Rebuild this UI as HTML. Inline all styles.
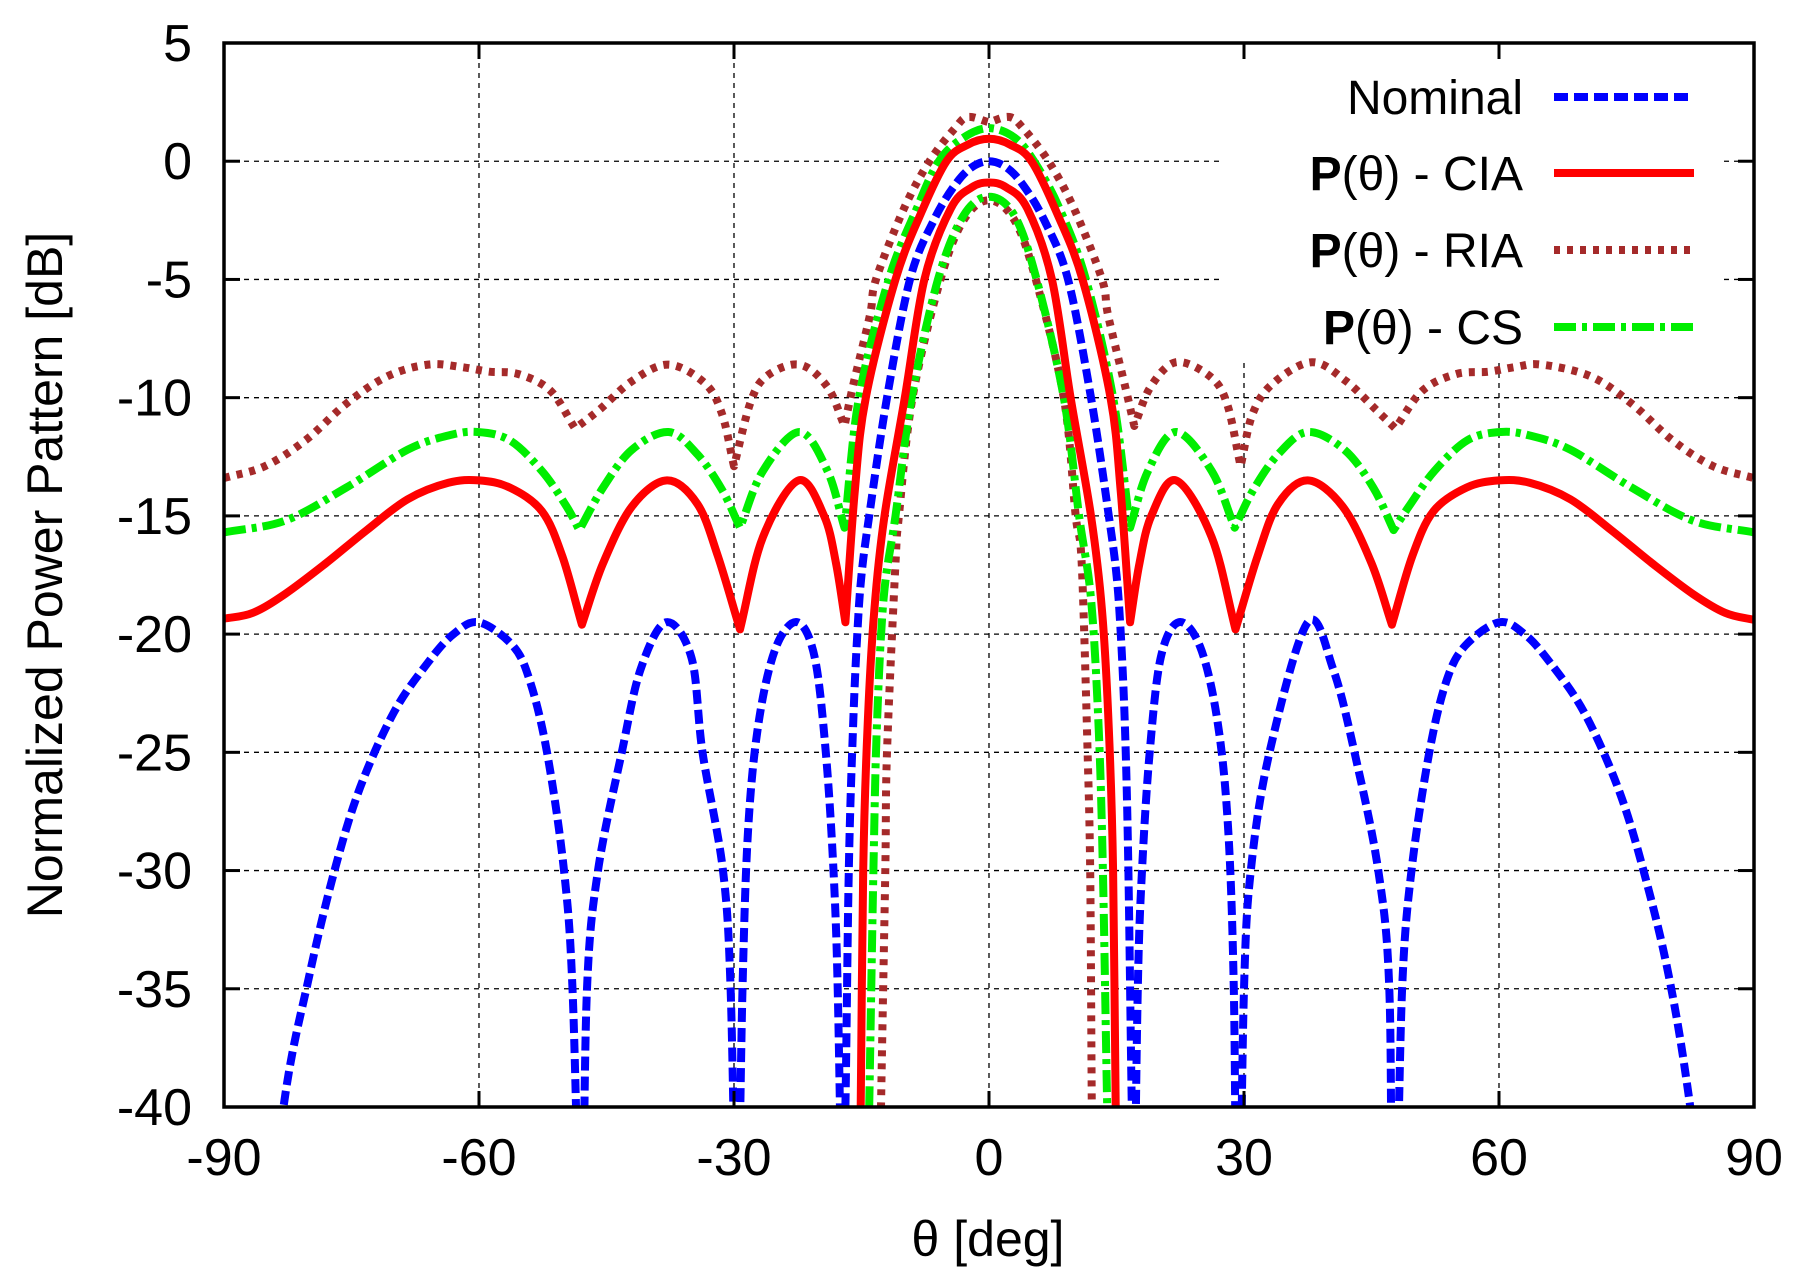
<!DOCTYPE html>
<html><head><meta charset="utf-8"><style>
html,body{margin:0;padding:0;background:#fff;}
svg{display:block;font-family:"Liberation Sans",Arial,sans-serif;}
</style></head><body>
<svg id="chart" width="1806" height="1281" viewBox="0 0 1806 1281" xmlns="http://www.w3.org/2000/svg">
<defs><clipPath id="plotclip"><rect x="224" y="43" width="1530" height="1064"/></clipPath></defs>
<rect width="1806" height="1281" fill="#fff"/>
<g id="grid"></g>
<g id="series" clip-path="url(#plotclip)"></g>
<g id="legend"></g>
<g id="axes"></g>
<text x="988" y="1256" font-size="50" text-anchor="middle">θ [deg]</text>
<text transform="translate(62,575) rotate(-90)" font-size="50" text-anchor="middle">Normalized Power Pattern [dB]</text>
</svg>
<script>
const xTicks=[-90,-60,-30,0,30,60,90];
const yTicks=[5,0,-5,-10,-15,-20,-25,-30,-35,-40];
const nominalTheta=[-86,-83,-80,-77,-74,-70,-66,-63,-60,-56,-54,-52,-50,-49,-48.2,-47.8,-47.3,-46,-43.2,-41,-38,-35,-33.7,-31.3,-30.4,-29.8,-29.5,-29,-28.3,-27,-25,-22.5,-20.5,-19.2,-18.3,-17.8,-17.3,-16.9,-16.5,-16,-15.5,-15,-14.1,-12,-9.3,-6.5,-4,-2,0,2,4,6.5,9.3,12,14.1,15,15.5,16,16.4,16.8,17.1,17.5,18,18.9,20.2,22.3,24.8,26.8,28.1,28.8,29.1,29.5,30,30.8,33,37.5,40.5,43,45.8,47.1,47.4,47.9,48.6,49.7,51.8,53.8,56,60,63,66,70,74,77,80,82.5,86];
const nominalDb=[-50,-40,-34.5,-30,-26.5,-23.3,-21.2,-20,-19.5,-20.5,-22,-25,-30,-35,-45,-45,-35,-30,-25,-21.5,-19.5,-21,-25,-30,-35,-45,-45,-35,-28,-23.5,-20.5,-19.5,-21,-25,-30,-35,-45,-40,-30,-24,-20,-17.5,-15,-10,-5,-2.5,-1,-0.25,0,-0.25,-1,-2.5,-5,-10,-15,-17.5,-20,-24,-30,-40,-45,-35,-30,-25,-21,-19.5,-20.5,-23.5,-28,-35,-45,-45,-35,-30,-25,-19.5,-21.5,-25,-30,-35,-45,-45,-35,-30,-25,-22,-20.5,-19.5,-20,-21.2,-23.3,-26.5,-30,-34.5,-40,-50];
const ciaUpTheta=[-90,-86.6,-82.8,-78,-73.2,-68.4,-63.6,-60,-56.4,-52.6,-50.2,-47.9,-45.4,-42,-37.9,-34.3,-31.9,-29.3,-26.6,-22.4,-19.4,-18,-16.9,-15.8,-14.5,-11,-8,-5,-2.5,0,2.5,5,8,11,14.3,15.5,16.6,17.7,19.1,22,26.2,29,31.6,34,37.5,41.6,45,47.4,49.8,52.3,56.2,60,63.6,68.4,73.2,78,82.8,86.6,90];
const ciaUpDb=[-19.35,-19.1,-18.3,-17,-15.6,-14.3,-13.6,-13.5,-13.8,-14.8,-16.7,-19.6,-17,-14.6,-13.5,-14.5,-16.7,-19.8,-15.9,-13.5,-15,-17,-19.5,-14,-10,-5,-2.2,0,0.7,0.95,0.7,0,-2.2,-5,-10,-14,-19.5,-17,-15,-13.5,-15.9,-19.8,-16.7,-14.5,-13.5,-14.6,-17,-19.6,-16.7,-14.8,-13.8,-13.5,-13.6,-14.3,-15.6,-17,-18.3,-19.1,-19.4];
const ciaLowTheta=[-15.3,-15.1,-14.8,-14.3,-13.5,-12.3,-9.9,-7.6,-4.5,-2,0,2,4.5,7.4,9.6,12,13.3,14.1,14.6,14.9,15.1];
const ciaLowDb=[-45,-40,-30,-24,-19,-15,-10,-5,-2,-1.1,-0.9,-1.1,-2,-5,-10,-15,-19,-24,-30,-40,-45];
const riaUpTheta=[-90,-85.2,-80.4,-75.6,-70.8,-66,-62.2,-58.8,-55.4,-51.6,-48.7,-45.8,-42,-37.7,-33.4,-31.4,-30,-28.1,-26.2,-22.3,-19,-17,-16,-14,-13.3,-10,-7,-4,-2.5,0,2.4,4,7,10,13.3,14,16,17.1,19,22,26,28,29.6,31,33.4,38,42,45.5,47.8,51,55,58.8,62,65,70.8,75.6,80.4,85.2,90];
const riaUpDb=[-13.4,-12.9,-11.8,-10.25,-9.1,-8.6,-8.7,-8.9,-9,-9.7,-11.3,-10.5,-9.3,-8.6,-9.4,-10.7,-12.9,-10.25,-9.1,-8.6,-9.55,-11.2,-9.5,-6.5,-5,-2,0,1.4,1.87,1.65,1.87,1.4,0,-2,-5,-6.5,-9.5,-11.2,-9.55,-8.5,-9.1,-10.25,-12.9,-10.7,-9.4,-8.5,-9.3,-10.5,-11.3,-9.7,-9,-8.9,-8.7,-8.6,-9.1,-10.25,-11.8,-12.9,-13.4];
const riaLowTheta=[-12.9,-12.7,-12.2,-12,-11,-10.6,-9,-5.7,-3,0,3,5.5,8.8,10.2,10.9,11.6,11.9,12.1,12.3];
const riaLowDb=[-45,-40,-30,-25,-17,-15,-10,-5,-2.5,-1.65,-2.5,-5,-10,-15,-17,-25,-30,-40,-45];
const csUpTheta=[-90,-82.8,-75.6,-68.4,-63.6,-60.2,-56.4,-52.6,-49.7,-48.2,-45.4,-42,-37.7,-34.3,-31.4,-29.3,-26.6,-22.3,-19,-17,-15.3,-11.8,-8.5,-5.9,-3,0,3,5.3,8.3,11.4,14.6,16.6,18.7,22,26.2,28.9,31.1,34,37.5,41.8,45.2,47.6,49.4,52.4,56.3,60.2,63.6,68.4,75.6,82.8,90];
const csUpDb=[-15.7,-15.2,-13.8,-12.2,-11.6,-11.45,-11.8,-13.1,-14.6,-15.6,-13.8,-12.2,-11.45,-12.4,-13.9,-15.5,-13.1,-11.45,-13.1,-15.5,-10,-5,-2,0,1,1.4,1,0,-2,-5,-10,-15.5,-13.1,-11.45,-13.1,-15.5,-13.9,-12.4,-11.45,-12.2,-13.8,-15.6,-14.6,-13.1,-11.8,-11.45,-11.6,-12.2,-13.8,-15.2,-15.7];
const csLowTheta=[-14.4,-14.1,-13.6,-13.2,-12.4,-11,-9.1,-6,-3,0,3,5.6,8.8,10.6,12,12.9,13.4,13.9,14.2];
const csLowDb=[-45,-40,-30,-24,-18.5,-15,-10,-5,-2.3,-1.5,-2.3,-5,-10,-15,-18.5,-24,-30,-40,-45];

const NS='http://www.w3.org/2000/svg';
const L=224,R=1754,T=43,B=1107;
function xs(t){return L+(t+90)/180*(R-L);}
function ys(d){return T+(5-d)/45*(B-T);}
function mk(tag,attrs,parent){const e=document.createElementNS(NS,tag);for(const k in attrs)e.setAttribute(k,attrs[k]);parent.appendChild(e);return e;}
const grid=document.getElementById('grid'),axes=document.getElementById('axes'),ser=document.getElementById('series'),leg=document.getElementById('legend');
xTicks.forEach(t=>{
  if(t>-90&&t<90){const g=mk('line',{x1:xs(t),x2:xs(t),y1:T,y2:B,stroke:'#000','stroke-width':1.3,'stroke-dasharray':'5,5'},grid);
  
  
  mk('line',{x1:xs(t),x2:xs(t),y1:B,y2:B-16,stroke:'#000','stroke-width':3},axes);
  mk('line',{x1:xs(t),x2:xs(t),y1:T,y2:T+16,stroke:'#000','stroke-width':3},axes);}
  const tx=mk('text',{x:xs(t),y:1175,'font-size':52,'text-anchor':'middle'},axes);tx.textContent=t;
  
  
});
yTicks.forEach(d=>{
  if(d<5&&d>-40){const g=mk('line',{x1:L,x2:R,y1:ys(d),y2:ys(d),stroke:'#000','stroke-width':1.3,'stroke-dasharray':'5,5'},grid);
  
  
  mk('line',{x1:L,x2:L+16,y1:ys(d),y2:ys(d),stroke:'#000','stroke-width':3},axes);
  mk('line',{x1:R,x2:R-16,y1:ys(d),y2:ys(d),stroke:'#000','stroke-width':3},axes);}
  const tx=mk('text',{x:192,y:ys(d)+18,'font-size':52,'text-anchor':'end'},axes);tx.textContent=d;
  
  
});
const lb=mk('rect',{x:1219,y:62,width:500,height:300,fill:'#fff'},grid);


const frame=mk('rect',{x:L,y:T,width:R-L,height:B-T,fill:'none',stroke:'#000','stroke-width':3.5},axes);



const styles={
 nominal:{stroke:'#0000ff',w:8,dash:'14,6'},
 cia:{stroke:'#ff0000',w:8,dash:''},
 ria:{stroke:'#a52a2a',w:8,dash:'6,7'},
 cs:{stroke:'#00ee00',w:8,dash:'22,6,5,6'}
};
function drawSeries(th,db,st,name){
  const P=th.map((t,i)=>[xs(t),ys(db[i])]);
  const n=P.length;
  const cusp=P.map((p,i)=>i>0&&i<n-1&&p[1]>P[i-1][1]&&p[1]>P[i+1][1]);
  function tan(i,side){
    if(i===0)return [P[1][0]-P[0][0],P[1][1]-P[0][1]];
    if(i===n-1)return [P[n-1][0]-P[n-2][0],P[n-1][1]-P[n-2][1]];
    if(cusp[i]){return side<0?[P[i][0]-P[i-1][0],P[i][1]-P[i-1][1]]:[P[i+1][0]-P[i][0],P[i+1][1]-P[i][1]];}
    return [(P[i+1][0]-P[i-1][0])/2,(P[i+1][1]-P[i-1][1])/2];
  }
  let d='M'+P[0][0].toFixed(1)+','+P[0][1].toFixed(1);
  for(let i=0;i<n-1;i++){
    const t0=tan(i,1),t1=tan(i+1,-1);
    const c1=[P[i][0]+t0[0]/3,P[i][1]+t0[1]/3],c2=[P[i+1][0]-t1[0]/3,P[i+1][1]-t1[1]/3];
    d+='C'+c1[0].toFixed(1)+','+c1[1].toFixed(1)+' '+c2[0].toFixed(1)+','+c2[1].toFixed(1)+' '+P[i+1][0].toFixed(1)+','+P[i+1][1].toFixed(1);
  }
  const p=mk('path',{d:d,fill:'none',stroke:st.stroke,'stroke-width':st.w,'stroke-dasharray':st.dash,'stroke-linejoin':'round'},ser);
  
  
}
drawSeries(riaUpTheta,riaUpDb,styles.ria,'ria-upper-line');
drawSeries(riaLowTheta,riaLowDb,styles.ria,'ria-lower-line');
drawSeries(csUpTheta,csUpDb,styles.cs,'cs-upper-line');
drawSeries(csLowTheta,csLowDb,styles.cs,'cs-lower-line');
drawSeries(nominalTheta,nominalDb,styles.nominal,'nominal-line');
drawSeries(ciaUpTheta,ciaUpDb,styles.cia,'cia-upper-line');
drawSeries(ciaLowTheta,ciaLowDb,styles.cia,'cia-lower-line');

const legendItems=[['Nominal','',97,styles.nominal,'legend-entry-nominal'],['P','(θ) - CIA',173,styles.cia,'legend-entry-cia'],['P','(θ) - RIA',250,styles.ria,'legend-entry-ria'],['P','(θ) - CS',327,styles.cs,'legend-entry-cs']];
legendItems.forEach(it=>{
  const g=mk('g',{},leg);
  
  
  const tx=mk('text',{x:1523,y:it[2]+17,'font-size':48,'text-anchor':'end'},g);
  if(it[1]===''){tx.textContent=it[0];}
  else{const b=mk('tspan',{'font-weight':'bold'},tx);b.textContent=it[0];const s=mk('tspan',{},tx);s.textContent=it[1];}
  mk('line',{x1:1554,x2:1694,y1:it[2],y2:it[2],stroke:it[3].stroke,'stroke-width':it[3].w,'stroke-dasharray':it[3].dash},g);
});
</script>
</body></html>
